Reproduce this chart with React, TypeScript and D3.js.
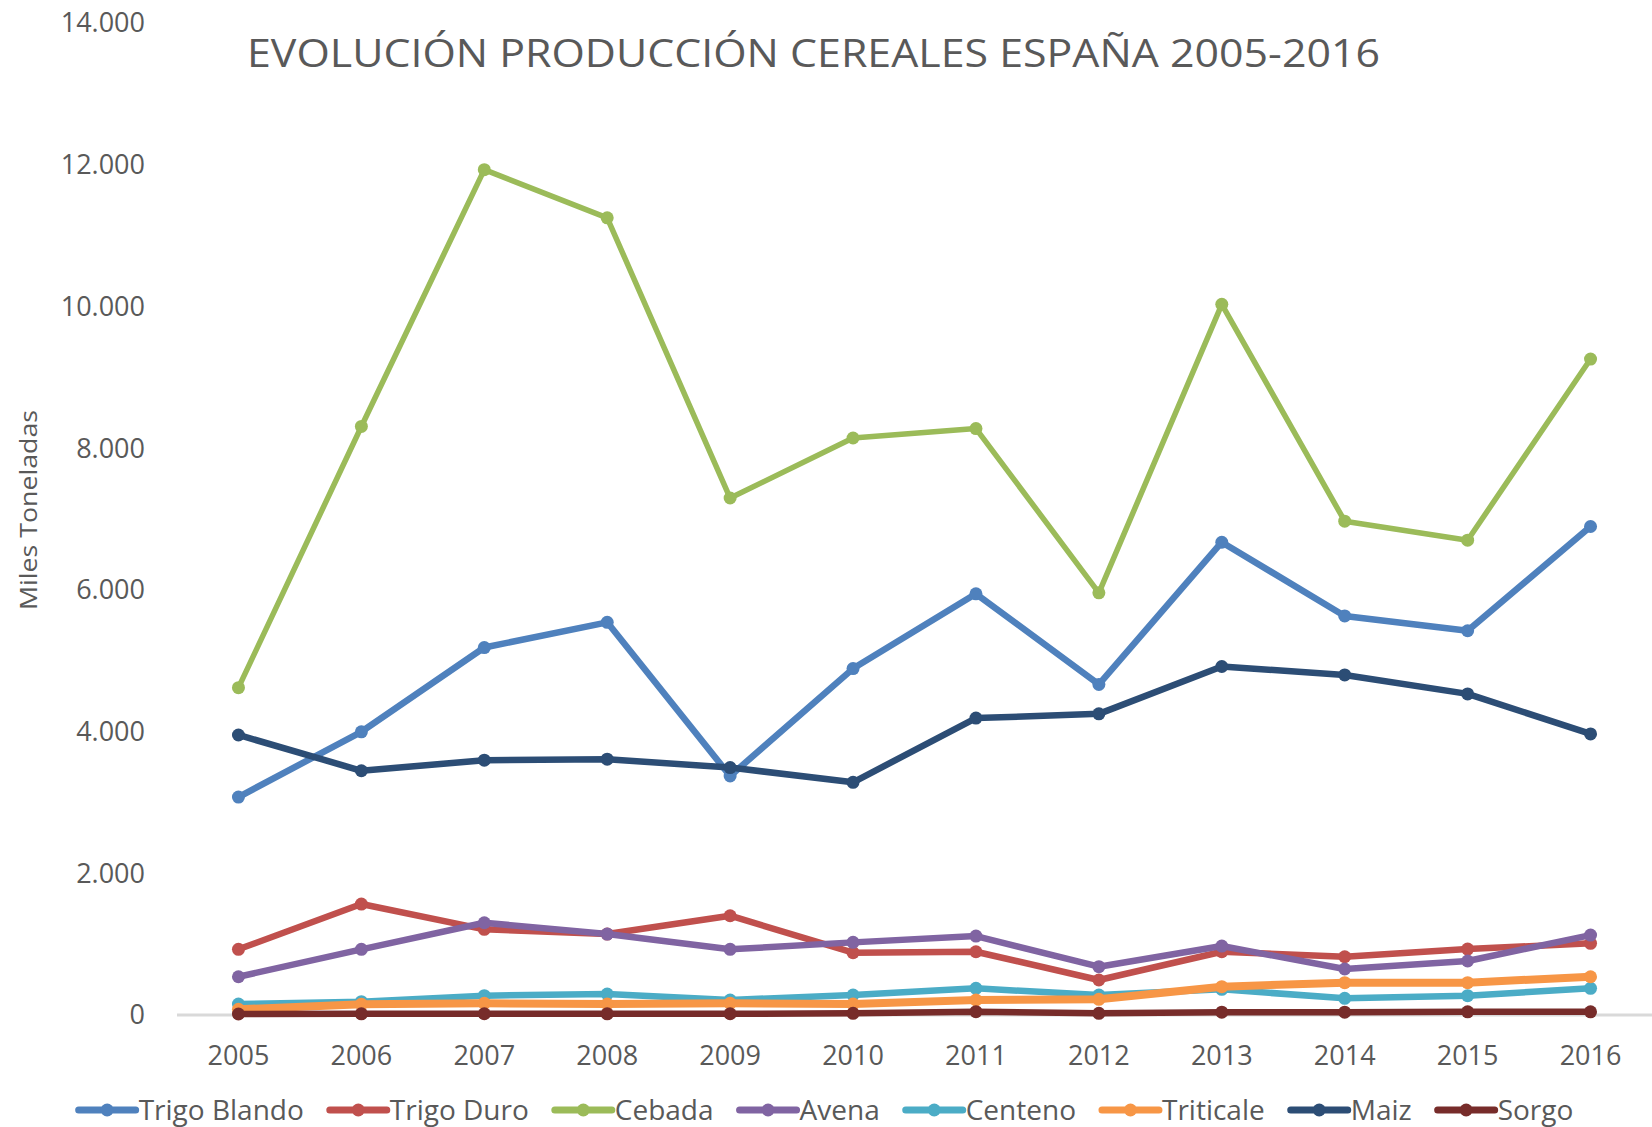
import { useEffect, useRef } from "react";
import * as d3 from "d3";

const years = ["2005", "2006", "2007", "2008", "2009", "2010", "2011", "2012", "2013", "2014", "2015", "2016"];

const trigoBlando = [3076, 3997, 5186, 5542, 3373, 4889, 5944, 4666, 6672, 5632, 5423, 6894];
const trigoDuro = [927, 1566, 1209, 1142, 1401, 879, 893, 494, 893, 822, 931, 1011];
const cebada = [4620, 8306, 11930, 11250, 7296, 8143, 8276, 5958, 10030, 6969, 6701, 9257];
const avena = [540, 927, 1302, 1142, 927, 1025, 1114, 682, 973, 649, 762, 1128];
const centeno = [155, 188, 273, 296, 212, 282, 376, 282, 362, 235, 273, 376];
const triticale = [80, 150, 165, 155, 165, 155, 212, 221, 400, 456, 456, 540];
const maiz = [3952, 3447, 3596, 3611, 3492, 3284, 4190, 4250, 4918, 4799, 4532, 3967];
const sorgo = [14, 16, 18, 16, 18, 23, 47, 23, 40, 40, 45, 45];

const yTicks = [0, 2000, 4000, 6000, 8000, 10000, 12000, 14000];

interface Serie {
  name: string;
  values: number[];
  color: string;
  width: number;
}

const series: Serie[] = [
  { name: "Trigo Blando", values: trigoBlando, color: "#4F81BD", width: 6.5 },
  { name: "Trigo Duro", values: trigoDuro, color: "#C0504D", width: 6.5 },
  { name: "Cebada", values: cebada, color: "#9BBB59", width: 5.5 },
  { name: "Avena", values: avena, color: "#8064A2", width: 6.5 },
  { name: "Centeno", values: centeno, color: "#4BACC6", width: 6.5 },
  { name: "Triticale", values: triticale, color: "#F79646", width: 8 },
  { name: "Maiz", values: maiz, color: "#2C4D75", width: 6.5 },
  { name: "Sorgo", values: sorgo, color: "#772C2A", width: 6.5 },
];

const W = 1652;
const H = 1127;
const textColor = "#595959";
const font = "'Open Sans', sans-serif";

export default function App() {
  const svgRef = useRef<SVGSVGElement>(null);

  useEffect(() => {
    if (!svgRef.current) return;
    const svg = d3.select(svgRef.current);
    svg.selectAll("*").remove();

    const x = d3.scaleBand().domain(years).range([177, W]);
    const y = d3.scaleLinear().domain([0, 14000]).range([1015, 23]);
    const cx = (yr: string) => (x(yr) || 0) + x.bandwidth() / 2;

    // title
    svg
      .append("text")
      .attr("x", 247)
      .attr("y", 67)
      .attr("textLength", 1133)
      .attr("lengthAdjust", "spacingAndGlyphs")
      .attr("font-family", font)
      .attr("font-size", 39)
      .attr("fill", textColor)
      .text("EVOLUCIÓN PRODUCCIÓN CEREALES ESPAÑA 2005-2016");

    // y axis title
    svg
      .append("text")
      .attr("transform", "translate(37,510) rotate(-90)")
      .attr("text-anchor", "middle")
      .attr("textLength", 200)
      .attr("lengthAdjust", "spacingAndGlyphs")
      .attr("font-family", font)
      .attr("font-size", 24)
      .attr("fill", textColor)
      .text("Miles Toneladas");

    // y tick labels
    svg
      .append("g")
      .selectAll("text")
      .data(yTicks)
      .join("text")
      .attr("x", 145)
      .attr("y", (d) => y(d))
      .attr("dy", "0.35em")
      .attr("text-anchor", "end")
      .attr("font-family", font)
      .attr("font-size", 27)
      .attr("fill", textColor)
      .text((d) => d3.format(",")(d).replace(/,/g, "."));

    // x axis line
    svg
      .append("line")
      .attr("x1", x.range()[0])
      .attr("x2", x.range()[1])
      .attr("y1", y(0))
      .attr("y2", y(0))
      .attr("stroke", "#D9D9D9")
      .attr("stroke-width", 3);

    // x tick labels
    svg
      .append("g")
      .selectAll("text")
      .data(years)
      .join("text")
      .attr("x", (d) => cx(d))
      .attr("y", 1065)
      .attr("text-anchor", "middle")
      .attr("font-family", font)
      .attr("font-size", 27)
      .attr("fill", textColor)
      .text((d) => d);

    const line = d3
      .line<number>()
      .x((_, i) => cx(years[i]))
      .y((d) => y(d));

    series.forEach((s) => {
      const g = svg.append("g");
      g.append("path")
        .attr("d", line(s.values) || "")
        .attr("fill", "none")
        .attr("stroke", s.color)
        .attr("stroke-width", s.width)
        .attr("stroke-linejoin", "round")
        .attr("stroke-linecap", "round");
      g.selectAll("circle")
        .data(s.values)
        .join("circle")
        .attr("cx", (_, i) => cx(years[i]))
        .attr("cy", (d) => y(d))
        .attr("r", 6.5)
        .attr("fill", s.color);
    });

    // legend, laid out from measured text widths
    const legend = svg.append("g");
    const lineLen = 57;
    const gapText = 3;
    const gapItem = 26;
    const ly = 1110;
    let offset = 0;
    series.forEach((s) => {
      const item = legend.append("g").attr("transform", `translate(${offset},0)`);
      item
        .append("line")
        .attr("x1", 0)
        .attr("x2", lineLen)
        .attr("y1", ly)
        .attr("y2", ly)
        .attr("stroke", s.color)
        .attr("stroke-width", 7)
        .attr("stroke-linecap", "round");
      item
        .append("circle")
        .attr("cx", lineLen / 2)
        .attr("cy", ly)
        .attr("r", 6.5)
        .attr("fill", s.color);
      const t = item
        .append("text")
        .attr("x", lineLen + gapText)
        .attr("y", ly)
        .attr("dy", "0.35em")
        .attr("font-family", font)
        .attr("font-size", 28)
        .attr("fill", textColor)
        .text(s.name);
      const tw = (t.node() as SVGTextElement).getComputedTextLength();
      offset += lineLen + gapText + tw + gapItem;
    });
    const total = offset - gapItem;
    legend.attr("transform", `translate(${W / 2 - total / 2},0)`);
  }, []);

  return (
    <svg
      ref={svgRef}
      width={W}
      height={H}
      style={{ position: "absolute", left: 0, top: 0, background: "#fff" }}
    ></svg>
  );
}
